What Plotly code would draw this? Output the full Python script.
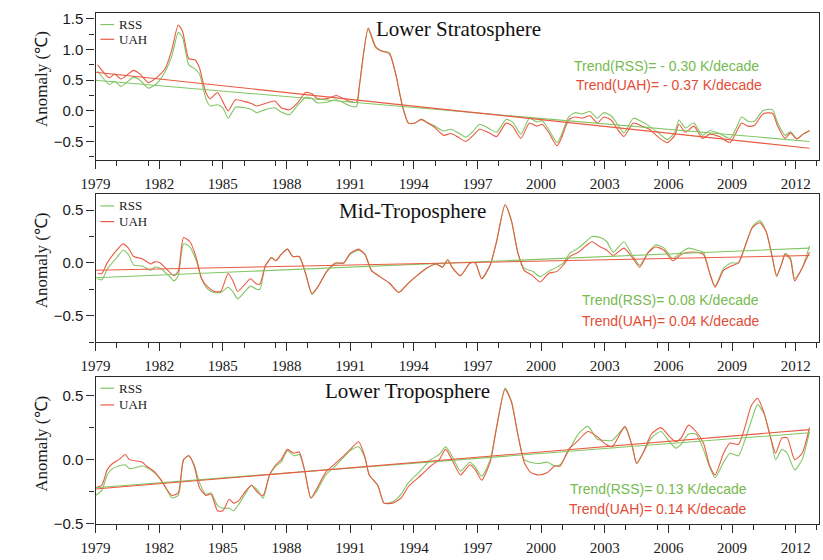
import plotly.graph_objects as go

W, H = 823, 560

# ---------------- data ----------------
ls_year = [1979.1, 1979.65, 1979.9, 1980.2, 1980.8, 1981.1, 1981.5, 1981.9, 1982.3, 1982.6,
           1982.9, 1983.1, 1983.4, 1983.7, 1983.9, 1984.2, 1984.4, 1984.75, 1985.0, 1985.25,
           1985.6, 1986.05, 1986.35, 1986.6, 1987.0, 1987.45, 1987.75, 1988.15, 1988.5, 1988.9,
           1989.2, 1989.45, 1989.9, 1990.35, 1990.7, 1991.0, 1991.3, 1991.45, 1991.85, 1992.2,
           1992.45, 1992.85, 1993.15, 1993.45, 1993.75, 1994.05, 1994.35, 1994.65, 1994.95, 1995.4,
           1995.75, 1996.05, 1996.45, 1996.8, 1997.1, 1997.5, 1997.9, 1998.35, 1998.65, 1999.05,
           1999.45, 1999.8, 2000.05, 2000.35, 2000.75, 2000.95, 2001.3, 2001.6, 2001.95, 2002.3,
           2002.65, 2002.95, 2003.3, 2003.6, 2003.9, 2004.35, 2004.75, 2005.1, 2005.6, 2005.95,
           2006.3, 2006.5, 2006.8, 2007.2, 2007.6, 2007.95, 2008.4, 2008.9, 2009.2, 2009.45,
           2009.75, 2010.05, 2010.45, 2010.9, 2011.15, 2011.5, 2011.75, 2012.05, 2012.35, 2012.65]
ls_uah = [0.75, 0.54, 0.60, 0.52, 0.66, 0.60, 0.46, 0.55, 0.70, 1.00,
          1.40, 1.30, 0.85, 0.83, 0.70, 0.30, 0.20, 0.30, 0.15, 0.00,
          0.18, 0.15, 0.12, 0.08, 0.12, 0.16, 0.05, 0.02, 0.12, 0.30,
          0.28, 0.20, 0.20, 0.25, 0.20, 0.15, 0.14, 0.45, 1.35, 1.05,
          0.98, 0.93, 0.60, 0.10, -0.20, -0.20, -0.14, -0.20, -0.26, -0.40,
          -0.37, -0.42, -0.50, -0.40, -0.30, -0.35, -0.42, -0.20, -0.25, -0.45,
          -0.20, -0.25, -0.22, -0.35, -0.57, -0.45, -0.15, -0.10, -0.12, -0.08,
          -0.20, -0.10, -0.15, -0.30, -0.42, -0.20, -0.25, -0.30, -0.45, -0.52,
          -0.40, -0.22, -0.35, -0.25, -0.45, -0.38, -0.42, -0.52, -0.35, -0.20,
          -0.25, -0.24, -0.05, -0.04, -0.25, -0.45, -0.36, -0.46, -0.38, -0.32]
ls_rss = [0.65, 0.43, 0.48, 0.40, 0.55, 0.50, 0.37, 0.45, 0.65, 0.90,
          1.28, 1.20, 0.75, 0.68, 0.60, 0.20, 0.08, 0.10, 0.05, -0.12,
          0.06, 0.05, 0.02, -0.03, 0.02, 0.05, -0.02, -0.06, 0.08, 0.22,
          0.20, 0.13, 0.14, 0.18, 0.13, 0.08, 0.07, 0.43, 1.33, 1.03,
          0.98, 0.95, 0.60, 0.10, -0.20, -0.20, -0.14, -0.19, -0.24, -0.33,
          -0.30, -0.35, -0.43, -0.33, -0.22, -0.28, -0.35, -0.14, -0.18, -0.38,
          -0.12, -0.18, -0.16, -0.30, -0.52, -0.40, -0.10, -0.03, -0.05, -0.01,
          -0.12, -0.03, -0.08, -0.22, -0.36, -0.12, -0.18, -0.25, -0.38, -0.47,
          -0.35, -0.15, -0.28, -0.20, -0.40, -0.32, -0.37, -0.45, -0.28, -0.10,
          -0.17, -0.17, 0.00, 0.02, -0.20, -0.40, -0.34, -0.45, -0.38, -0.33]

mt_year = [1979.1, 1979.3, 1979.55, 1980.0, 1980.3, 1980.55, 1980.8, 1981.2, 1981.6, 1981.8,
           1982.05, 1982.45, 1982.7, 1982.9, 1983.15, 1983.45, 1983.75, 1984.0, 1984.3, 1984.6,
           1984.9, 1985.25, 1985.5, 1985.7, 1986.05, 1986.3, 1986.6, 1986.75, 1987.0, 1987.3,
           1987.5, 1987.75, 1988.05, 1988.3, 1988.6, 1988.9, 1989.2, 1989.5, 1989.9, 1990.3,
           1990.7, 1991.0, 1991.4, 1991.7, 1992.0, 1992.4, 1992.85, 1993.3, 1993.7, 1994.15,
           1994.6, 1995.05, 1995.35, 1995.6, 1995.8, 1996.2, 1996.65, 1996.9, 1997.2, 1997.6,
           1997.9, 1998.3, 1998.6, 1998.9, 1999.2, 1999.6, 1999.95, 2000.35, 2000.75, 2001.05,
           2001.35, 2001.75, 2002.1, 2002.4, 2002.8, 2003.1, 2003.4, 2003.9, 2004.3, 2004.65,
           2005.05, 2005.4, 2005.8, 2006.2, 2006.6, 2006.95, 2007.35, 2007.65, 2007.95, 2008.2,
           2008.6, 2008.95, 2009.3, 2009.6, 2009.95, 2010.3, 2010.6, 2010.9, 2011.1, 2011.35,
           2011.5, 2011.75, 2011.95, 2012.3, 2012.65]
mt_uah = [-0.10, -0.10, 0.00, 0.12, 0.18, 0.14, 0.06, 0.04, -0.01, 0.01,
          0.00, -0.08, -0.12, -0.08, 0.24, 0.20, 0.05, -0.15, -0.23, -0.27,
          -0.27, -0.10, -0.18, -0.27, -0.20, -0.15, -0.20, -0.20, -0.03, 0.05,
          0.02, 0.08, 0.13, 0.06, 0.06, -0.10, -0.29, -0.22, -0.08, 0.00,
          0.00, 0.09, 0.13, 0.08, -0.07, -0.13, -0.19, -0.28, -0.20, -0.12,
          -0.05, -0.01, -0.04, 0.03, -0.04, -0.12, 0.00, 0.00, -0.15, -0.02,
          0.20, 0.55, 0.40, 0.10, -0.07, -0.12, -0.18, -0.10, -0.08, -0.02,
          0.06, 0.10, 0.16, 0.20, 0.15, 0.12, 0.07, 0.14, 0.05, -0.04,
          0.10, 0.15, 0.12, 0.02, 0.08, 0.10, 0.10, 0.08, -0.10, -0.23,
          -0.07, -0.03, 0.00, 0.15, 0.33, 0.38, 0.30, 0.05, -0.12, 0.00,
          0.08, 0.03, -0.17, -0.05, 0.10]
mt_rss = [-0.15, -0.16, -0.06, 0.05, 0.12, 0.08, -0.02, -0.03, -0.07, -0.04,
          -0.05, -0.12, -0.17, -0.12, 0.18, 0.15, 0.02, -0.15, -0.25, -0.28,
          -0.28, -0.23, -0.28, -0.34, -0.27, -0.22, -0.25, -0.25, -0.03, 0.05,
          0.02, 0.08, 0.13, 0.06, 0.06, -0.10, -0.30, -0.22, -0.08, -0.01,
          0.00, 0.08, 0.12, 0.08, -0.07, -0.13, -0.19, -0.28, -0.20, -0.12,
          -0.05, -0.01, -0.04, 0.03, -0.04, -0.12, 0.00, 0.00, -0.15, -0.02,
          0.20, 0.55, 0.40, 0.10, -0.05, -0.08, -0.13, -0.08, -0.04, 0.00,
          0.09, 0.14, 0.20, 0.25, 0.24, 0.20, 0.10, 0.20, 0.07, -0.02,
          0.10, 0.17, 0.14, 0.04, 0.10, 0.14, 0.12, 0.10, -0.10, -0.22,
          -0.05, 0.00, 0.00, 0.15, 0.34, 0.40, 0.30, 0.05, -0.13, 0.00,
          0.09, 0.05, -0.15, -0.05, 0.16]

lt_year = [1979.0, 1979.3, 1979.55, 1979.8, 1980.1, 1980.4, 1980.6, 1981.2, 1981.4, 1981.75,
           1982.05, 1982.35, 1982.6, 1982.9, 1983.15, 1983.4, 1983.65, 1983.9, 1984.2, 1984.45,
           1984.75, 1985.0, 1985.3, 1985.5, 1985.75, 1986.05, 1986.35, 1986.65, 1986.9, 1987.2,
           1987.5, 1987.75, 1988.05, 1988.35, 1988.6, 1988.85, 1989.15, 1989.45, 1989.85, 1990.3,
           1990.7, 1991.0, 1991.4, 1991.7, 1991.9, 1992.3, 1992.6, 1993.0, 1993.4, 1993.75,
           1994.35, 1994.8, 1995.2, 1995.5, 1995.8, 1996.2, 1996.65, 1996.9, 1997.2, 1997.6,
           1997.9, 1998.3, 1998.6, 1998.9, 1999.2, 1999.5, 1999.9, 2000.3, 2000.65, 2000.9,
           2001.3, 2001.75, 2002.2, 2002.65, 2003.05, 2003.35, 2003.95, 2004.3, 2004.5, 2004.8,
           2005.2, 2005.65, 2006.05, 2006.35, 2006.6, 2006.95, 2007.3, 2007.65, 2007.95, 2008.2,
           2008.6, 2008.9, 2009.3, 2009.6, 2009.9, 2010.2, 2010.5, 2010.85, 2011.05, 2011.35,
           2011.6, 2011.95, 2012.3, 2012.65]
lt_uah = [-0.22, -0.20, -0.08, -0.03, 0.00, 0.04, 0.00, -0.02, -0.05, -0.09,
          -0.15, -0.23, -0.28, -0.26, 0.00, 0.03, -0.05, -0.22, -0.28, -0.27,
          -0.40, -0.40, -0.31, -0.34, -0.32, -0.25, -0.20, -0.26, -0.28, -0.12,
          -0.04, 0.00, 0.08, 0.05, 0.06, -0.08, -0.30, -0.22, -0.10, -0.03,
          0.03, 0.08, 0.14, 0.02, -0.12, -0.20, -0.34, -0.34, -0.30, -0.21,
          -0.12, -0.05, 0.00, 0.08, 0.00, -0.12, -0.04, -0.08, -0.16, -0.02,
          0.25, 0.55, 0.45, 0.20, -0.02, -0.10, -0.12, -0.10, -0.05, -0.05,
          0.08, 0.15, 0.22, 0.18, 0.12, 0.10, 0.26, 0.10, -0.03, 0.05,
          0.20, 0.25, 0.18, 0.14, 0.17, 0.27, 0.22, 0.13, -0.05, -0.12,
          0.05, 0.13, 0.12, 0.25, 0.42, 0.48, 0.37, 0.15, 0.05, 0.17,
          0.17, 0.00, 0.05, 0.25]
lt_rss = [-0.28, -0.24, -0.12, -0.07, -0.05, -0.04, -0.07, -0.05, -0.06, -0.10,
          -0.15, -0.23, -0.30, -0.28, 0.00, 0.03, -0.04, -0.18, -0.27, -0.26,
          -0.36, -0.38, -0.38, -0.40, -0.35, -0.27, -0.20, -0.24, -0.30, -0.12,
          -0.05, -0.02, 0.07, 0.03, 0.04, -0.08, -0.30, -0.24, -0.12, -0.05,
          0.02, 0.07, 0.10, 0.01, -0.12, -0.20, -0.34, -0.33, -0.27, -0.18,
          -0.08, 0.00, 0.04, 0.10, 0.03, -0.09, -0.02, -0.06, -0.13, 0.00,
          0.25, 0.56, 0.46, 0.20, 0.00, -0.02, -0.03, -0.02, -0.05, -0.04,
          0.07, 0.20, 0.26, 0.16, 0.15, 0.15, 0.25, 0.10, -0.03, 0.05,
          0.17, 0.22, 0.14, 0.09, 0.12, 0.20, 0.20, 0.08, -0.06, -0.14,
          -0.02, 0.05, 0.03, 0.15, 0.30, 0.43, 0.36, 0.15, 0.00, 0.08,
          0.05, -0.08, 0.00, 0.22]

# linear trend lines: values at start / end year
trend_years = [1979.0, 2012.65]
ls_rss_trend = [0.50, -0.50]
ls_uah_trend = [0.63, -0.61]
mt_rss_trend = [-0.14, 0.14]
mt_uah_trend = [-0.07, 0.07]
lt_rss_trend = [-0.22, 0.21]
lt_uah_trend = [-0.23, 0.235]

panel_titles = ["Lower Stratosphere", "Mid-Troposphere", "Lower Troposphere"]
rss_trend_text = ["Trend(RSS)= - 0.30 K/decade", "Trend(RSS)= 0.08 K/decade", "Trend(RSS)= 0.13 K/decade"]
uah_trend_text = ["Trend(UAH)= - 0.37 K/decade", "Trend(UAH)= 0.04 K/decade", "Trend(UAH)= 0.14 K/decade"]
y_ranges = [[-0.8, 1.6], [-0.75, 0.65], [-0.5, 0.65]]
x_range = [1979, 2013.1]

# ---------------- style ----------------
RSS_C = "rgb(130,198,100)"
UAH_C = "rgb(234,90,66)"
RSS_T = "rgb(118,186,80)"
UAH_T = "rgb(228,76,54)"
AX_C = "#2a2a2a"
SERIF = "Liberation Serif, Times New Roman, serif"
SANS = "Liberation Sans, Arial, sans-serif"

def px(x):
    return x / W

def py(y):
    return 1 - y / H

# pixel boxes of the three panels (top, bottom)
boxes = [(10, 160), (195, 346), (381, 531)]
x_dom = [px(82), px(819)]

fig = go.Figure()
series = [
    (ls_year, ls_rss, ls_uah, ls_rss_trend, ls_uah_trend),
    (mt_year, mt_rss, mt_uah, mt_rss_trend, mt_uah_trend),
    (lt_year, lt_rss, lt_uah, lt_rss_trend, lt_uah_trend),
]

line_kw = dict(shape="spline", smoothing=0.6, width=1.1)
for i, (yr, rss, uah, rt, ut) in enumerate(series):
    xa = "x" if i == 0 else f"x{i+1}"
    ya = "y" if i == 0 else f"y{i+1}"
    fig.add_trace(go.Scatter(x=yr, y=rss, mode="lines", name="RSS",
                             line=dict(color=RSS_C, **line_kw), xaxis=xa, yaxis=ya, showlegend=False))
    fig.add_trace(go.Scatter(x=yr, y=uah, mode="lines", name="UAH",
                             line=dict(color=UAH_C, **line_kw), xaxis=xa, yaxis=ya, showlegend=False))
    fig.add_trace(go.Scatter(x=trend_years, y=rt, mode="lines", name="RSS trend",
                             line=dict(color=RSS_C, width=1.1), xaxis=xa, yaxis=ya, showlegend=False))
    fig.add_trace(go.Scatter(x=trend_years, y=ut, mode="lines", name="UAH trend",
                             line=dict(color=UAH_C, width=1.1), xaxis=xa, yaxis=ya, showlegend=False))

axis_common = dict(showline=True, mirror=True, linecolor=AX_C, linewidth=1.2,
                   showgrid=False, zeroline=False, ticks="outside", tickcolor=AX_C,
                   tickwidth=1.2, ticklen=8)

layout = dict(width=W, height=H, margin=dict(l=0, r=0, t=0, b=0),
              paper_bgcolor="white", plot_bgcolor="white", showlegend=False)

annotations = []
shapes = []
title_pos = [(452, 27), (405, 212), (400, 396)]
rss_txt_pos = [(664, 64), (668, 303), (655, 496)]
uah_txt_pos = [(666, 84), (668, 324), (655, 516)]
ytitle_y = [78, 263, 450]
legend_y = [(22, 37), (207, 223), (393, 410)]

for i, (top, bot) in enumerate(boxes):
    sfx = "" if i == 0 else str(i + 1)
    layout["xaxis" + sfx] = dict(domain=x_dom, anchor="y" + sfx, range=x_range,
                                 tick0=1979, dtick=3, tickformat="d",
                                 minor=dict(dtick=1.5, ticks="outside", ticklen=5,
                                            tickcolor=AX_C, tickwidth=1.2),
                                 tickfont=dict(family=SERIF, size=15, color="#1a1a1a"),
                                 ticklabelstandoff=2, **axis_common)
    layout["yaxis" + sfx] = dict(domain=[py(bot), py(top)], anchor="x" + sfx, range=y_ranges[i],
                                 tick0=0, dtick=0.5, tickformat=".1f",
                                 minor=dict(dtick=0.25, ticks="outside", ticklen=5,
                                            tickcolor=AX_C, tickwidth=1.2),
                                 tickfont=dict(family=SANS, size=15, color="#1a1a1a"),
                                 **axis_common)
    # panel title
    annotations.append(dict(text=panel_titles[i], x=px(title_pos[i][0]), y=py(title_pos[i][1]),
                            xref="paper", yref="paper", showarrow=False, xanchor="center",
                            yanchor="middle", font=dict(family=SERIF, size=21, color="#111")))
    # trend texts
    annotations.append(dict(text=rss_trend_text[i], x=px(rss_txt_pos[i][0]), y=py(rss_txt_pos[i][1]),
                            xref="paper", yref="paper", showarrow=False, xanchor="center",
                            yanchor="middle", font=dict(family=SANS, size=14, color=RSS_T)))
    annotations.append(dict(text=uah_trend_text[i], x=px(uah_txt_pos[i][0]), y=py(uah_txt_pos[i][1]),
                            xref="paper", yref="paper", showarrow=False, xanchor="center",
                            yanchor="middle", font=dict(family=SANS, size=14, color=UAH_T)))
    # y axis title
    annotations.append(dict(text="Anomaly (℃)", x=px(27), y=py(ytitle_y[i]), xref="paper", yref="paper",
                            showarrow=False, textangle=-90, xanchor="center", yanchor="middle",
                            font=dict(family=SERIF, size=17, color="#1a1a1a")))
    # legend
    for name, col, yy in (("RSS", RSS_C, legend_y[i][0]), ("UAH", UAH_C, legend_y[i][1])):
        shapes.append(dict(type="line", xref="paper", yref="paper", x0=px(87), x1=px(101),
                           y0=py(yy), y1=py(yy), line=dict(color=col, width=1.2)))
        annotations.append(dict(text=name, x=px(104), y=py(yy), xref="paper", yref="paper",
                                showarrow=False, xanchor="left", yanchor="middle",
                                font=dict(family=SERIF, size=13, color="#1a1a1a")))

layout["annotations"] = annotations
layout["shapes"] = shapes
fig.update_layout(**layout)

fig.write_html("out.html")
